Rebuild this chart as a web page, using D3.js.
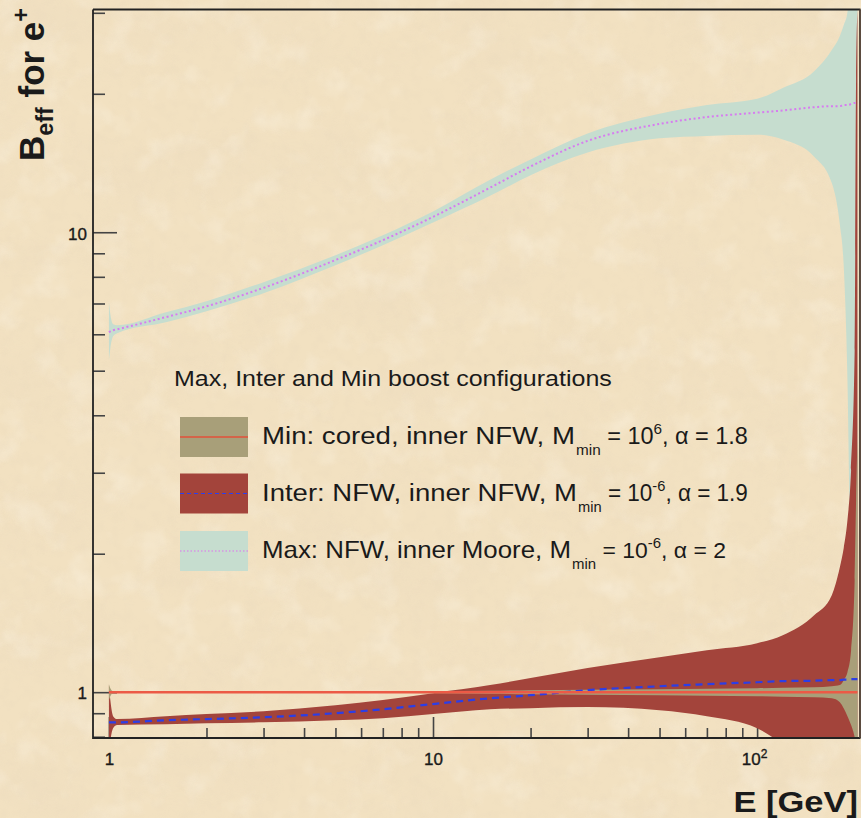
<!DOCTYPE html>
<html>
<head>
<meta charset="utf-8">
<script src="https://cdn.jsdelivr.net/npm/d3@7"></script>
<style>
  html, body { margin: 0; padding: 0; background: #f2e2c3; }
  svg { display: block; }
  text { font-family: "Liberation Sans", Arial, Helvetica, sans-serif; fill: #1a1a1a; }
</style>
</head>
<body>
<script>
// energy grid (GeV)
const energies = [1, 1.01, 1.03, 1.06, 1.5, 2, 3, 5, 7, 10, 15, 20, 30, 50, 70, 100, 120, 150, 170, 180, 185, 190, 195, 200, 202, 204];

// Max: NFW, inner Moore
const maxMid  = [6.06, 6.09, 6.12, 6.15, 6.54, 6.90, 7.57, 8.70, 9.61, 10.8, 12.5, 13.9, 15.8, 17.2, 17.8, 18.2, 18.4, 18.7, 18.8, 18.8, 18.9, 18.9, 19.0, 19.1, 19.1, 19.1];
const maxHigh = [7.04, 6.63, 6.31, 6.28, 6.70, 7.08, 7.79, 8.91, 9.85, 11.1, 13.0, 14.4, 16.4, 18.1, 18.9, 19.5, 20.6, 22.4, 24.9, 26.7, 28.2, 30.1, 39.0, 52.7, 67.7, 86.9];
const maxLow  = [5.27, 5.59, 5.94, 6.03, 6.37, 6.73, 7.37, 8.48, 9.37, 10.5, 12.0, 13.3, 14.9, 16.0, 16.2, 16.3, 15.9, 14.6, 12.8, 10.4, 8.48, 4.77, 1.59, 0.58, 0.45, 0.35];

// Inter: NFW, inner NFW
const interMid  = [0.860, 0.860, 0.860, 0.860, 0.869, 0.874, 0.882, 0.900, 0.918, 0.942, 0.970, 0.985, 1.010, 1.030, 1.041, 1.051, 1.057, 1.059, 1.062, 1.062, 1.065, 1.065, 1.067, 1.067, 1.067, 1.067];
const interHigh = [1.036, 0.961, 0.887, 0.874, 0.887, 0.896, 0.909, 0.937, 0.961, 0.995, 1.036, 1.073, 1.128, 1.191, 1.234, 1.278, 1.330, 1.470, 1.625, 1.869, 2.056, 2.365, 3.039, 5.54, 21.4, 30.4];
const interLow  = [0.748, 0.786, 0.835, 0.848, 0.852, 0.856, 0.860, 0.869, 0.878, 0.896, 0.918, 0.923, 0.928, 0.914, 0.887, 0.835, 0.767, 0.644, 0.527, 0.453, 0.410, 0.371, 0.353, 0.319, 0.304, 0.289];

// Min: cored, inner NFW
const minMid  = [1, 1, 1, 1, 1, 1, 1, 1, 1, 1, 1, 1, 1, 1, 1, 1, 1, 1, 1, 1, 1, 1, 1, 1, 1, 1];
const minHigh = [1.041, 1.020, 1.005, 1.0025, 1.0035, 1.0035, 1.0035, 1.004, 1.0045, 1.005, 1.0075, 1.010, 1.0126, 1.015, 1.0177, 1.020, 1.0228, 1.025, 1.030, 1.036, 1.062, 1.105, 1.234, 1.752, 2.615, 3.530];
const minLow  = [0.961, 0.980, 0.995, 0.9975, 0.9965, 0.9965, 0.9965, 0.9965, 0.9955, 0.995, 0.9925, 0.990, 0.9875, 0.985, 0.9826, 0.980, 0.9776, 0.9753, 0.970, 0.951, 0.923, 0.887, 0.848, 0.798, 0.767, 0.711];

const xMajor = [1, 10, 100];
const xMinor = [2, 3, 4, 5, 6, 7, 8, 9, 20, 30, 40, 50, 60, 70, 80, 90, 200];
const yMajor = [1, 10];
const yMinor = [0.8, 0.9, 2, 3, 4, 5, 6, 7, 8, 9, 20, 30];

const legendTitle = "Max, Inter and Min boost configurations";
const legendRows = [
  { lead: "Min: cored, inner NFW, M", sup: "6",  tail: ", \u03b1 = 1.8", fill: "#a89f79", stroke: "#ff2a1a", dash: null,    leadEnd: 575, end: 748 },
  { lead: "Inter: NFW, inner NFW, M", sup: "-6", tail: ", \u03b1 = 1.9", fill: "#a3443b", stroke: "#2b3ef0", dash: "4,3",   leadEnd: 577, end: 748 },
  { lead: "Max: NFW, inner Moore, M", sup: "-6", tail: ", \u03b1 = 2",   fill: "#c6ddcf", stroke: "#e070f0", dash: "1.5,2", leadEnd: 571, end: 726 }
];

const W = 861, H = 818;
const plot = { left: 93, right: 859.5, top: 9.5, bottom: 738 };

const svg = d3.select("body").append("svg").attr("width", W).attr("height", H);
const defs = svg.append("defs");

// parchment texture
function noise(id, freq, oct, seed, rgb, a, b) {
  const f = defs.append("filter").attr("id", id)
    .attr("filterUnits", "userSpaceOnUse").attr("x", 0).attr("y", 0).attr("width", W).attr("height", H);
  f.append("feTurbulence").attr("type", "fractalNoise").attr("baseFrequency", freq)
    .attr("numOctaves", oct).attr("seed", seed);
  f.append("feColorMatrix").attr("type", "matrix")
    .attr("values", `0 0 0 0 ${rgb[0]}  0 0 0 0 ${rgb[1]}  0 0 0 0 ${rgb[2]}  ${a} 0 0 0 ${b}`);
}
noise("paper", "0.011 0.015", 4, 5, [0.84, 0.71, 0.52], 2.0, -0.85);
noise("paper2", "0.03", 3, 11, [1, 0.97, 0.9], 2.2, -1.1);
noise("grain", "0.09", 2, 3, [0.80, 0.68, 0.50], 1.8, -0.8);

svg.append("rect").attr("width", W).attr("height", H).attr("fill", "#f2e1c1");
svg.append("rect").attr("width", W).attr("height", H).attr("filter", "url(#paper)").attr("opacity", 0.42);
svg.append("rect").attr("width", W).attr("height", H).attr("filter", "url(#paper2)").attr("opacity", 0.3);
svg.append("rect").attr("width", W).attr("height", H).attr("filter", "url(#grain)").attr("opacity", 0.28);

defs.append("clipPath").attr("id", "clip").append("rect")
  .attr("x", plot.left).attr("y", plot.top)
  .attr("width", plot.right - plot.left).attr("height", plot.bottom - plot.top);

const x = d3.scaleLog().domain([0.893, 207]).range([plot.left, plot.right]);
const y = d3.scaleLog().domain([0.795, 30.5]).range([plot.bottom, plot.top]);

// ticks (drawn under the bands)
function styleAxis(g) {
  g.select(".domain").remove();
  g.attr("font-size", null).attr("font-family", null);
  g.selectAll(".tick line").attr("stroke", "#444").attr("stroke-width", 1.6);
  g.selectAll(".tick text").style("font-size", "17px")
    .attr("fill", "#1a1a1a").attr("stroke", "#1a1a1a").attr("stroke-width", 0.35);
}
svg.append("g").attr("transform", `translate(0,${plot.bottom})`)
  .call(d3.axisBottom(x).tickValues(xMinor).tickSize(-10).tickFormat(""))
  .call(styleAxis);
const xMaj = svg.append("g").attr("transform", `translate(0,${plot.bottom})`)
  .call(d3.axisBottom(x).tickValues(xMajor).tickSize(-21).tickPadding(15).tickFormat(d => d === 100 ? "" : String(d)))
  .call(styleAxis);
xMaj.selectAll(".tick").filter(d => d === 100).select("text")
  .attr("dx", "-3px")
  .call(t => {
    t.append("tspan").text("10");
    t.append("tspan").attr("dy", "-7").style("font-size", "12px").text("2");
  });
svg.append("g").attr("transform", `translate(${plot.left},0)`)
  .call(d3.axisLeft(y).tickValues(yMinor).tickSize(-12).tickFormat(""))
  .call(styleAxis);
svg.append("g").attr("transform", `translate(${plot.left},0)`)
  .call(d3.axisLeft(y).tickValues(yMajor).tickSize(-24).tickPadding(6).tickFormat(d => String(d)))
  .call(styleAxis)
  .selectAll(".tick text").attr("dy", "0.4em");

// bands
const idx = d3.range(energies.length);
const bands = svg.append("g").attr("clip-path", "url(#clip)");
function band(lo, hi, color) {
  const area = d3.area()
    .x(i => x(energies[i]))
    .y0(i => y(lo[i]))
    .y1(i => y(hi[i]))
    .curve(d3.curveMonotoneX);
  bands.append("path").datum(idx).attr("fill", color).attr("d", area);
}
band(maxLow, maxHigh, "#c6ddcf");
band(interLow, interHigh, "#a3443b");
band(minLow, minHigh, "#a89f79");

function midLine(vals, color, width, dash) {
  const line = d3.line().x(i => x(energies[i])).y(i => y(vals[i])).curve(d3.curveMonotoneX);
  const p = bands.append("path").datum(idx).attr("fill", "none")
    .attr("stroke", color).attr("stroke-width", width).attr("d", line);
  if (dash) p.attr("stroke-dasharray", dash);
}
midLine(maxMid, "#d77cf0", 2, "2,2.6");
midLine(interMid, "#2c3ee6", 2.2, "7,5");
midLine(minMid, "#ec5a46", 2.5, null);

// frame
const frame = svg.append("g").attr("stroke", "#222").attr("stroke-width", 1.8).attr("fill", "none");
frame.append("path").attr("d", `M${plot.left},${plot.top}H${plot.right + 1}`);
frame.append("path").attr("d", `M${plot.left},${plot.top}V${plot.bottom}H${plot.right + 1}`);
frame.append("path").attr("d", `M${plot.right + 0.5},${plot.top}V${plot.bottom}`).attr("stroke", "#4a3a30");

// axis titles (the picture is stretched horizontally)
svg.append("g").attr("transform", "translate(858,812) scale(1.15,1)")
  .append("text").attr("text-anchor", "end").style("font-size", "30px").style("font-weight", "bold")
  .text("E [GeV]");

const ylg = svg.append("g");
const yl = ylg.append("text").style("font-size", "33px").style("font-weight", "bold");
yl.append("tspan").text("B");
yl.append("tspan").attr("dy", 8).style("font-size", "22px").text("eff");
yl.append("tspan").attr("dy", -8).text(" for e");
yl.append("tspan").attr("dy", -14).style("font-size", "22px").text("+");
const ylLen = yl.node().getComputedTextLength();
ylg.attr("transform", `translate(44,161) scale(1.08,1) rotate(-90) scale(${153 / ylLen},1)`);

// legend
const lt = svg.append("g");
const ltText = lt.append("text").style("font-size", "22px").text(legendTitle);
lt.attr("transform", `translate(174,386) scale(${438 / ltText.node().getComputedTextLength()},1)`);

const rowY = [437, 493.5, 551];
legendRows.forEach((r, k) => {
  const cy = rowY[k];
  svg.append("rect").attr("x", 180).attr("y", cy - 20).attr("width", 68).attr("height", 40)
    .attr("fill", r.fill);
  const ln = svg.append("line").attr("x1", 180).attr("x2", 248).attr("y1", cy).attr("y2", cy)
    .attr("stroke", r.stroke).attr("stroke-width", 1.2);
  if (r.dash) ln.attr("stroke-dasharray", r.dash);

  const g1 = svg.append("g");
  const t1 = g1.append("text").style("font-size", "23px").text(r.lead);
  g1.attr("transform", `translate(262,${cy + 7}) scale(${(r.leadEnd - 262) / t1.node().getComputedTextLength()},1)`);

  const g2 = svg.append("g");
  const t2 = g2.append("text").style("font-size", "23px");
  t2.append("tspan").attr("dy", 11).style("font-size", "15px").text("min");
  t2.append("tspan").attr("dy", -11).text(" = 10");
  t2.append("tspan").attr("dy", -10).style("font-size", "15px").text(r.sup);
  t2.append("tspan").attr("dy", 10).text(r.tail);
  g2.attr("transform", `translate(${r.leadEnd + 1},${cy + 7}) scale(${(r.end - r.leadEnd - 1) / t2.node().getComputedTextLength()},1)`);
});
</script>
</body>
</html>
